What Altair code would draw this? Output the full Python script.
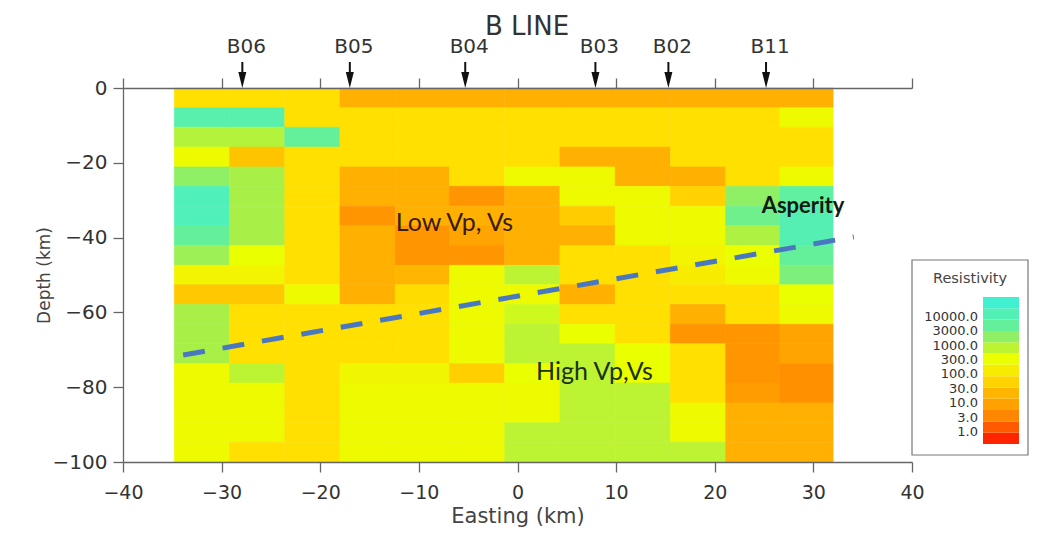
import altair as alt
import pandas as pd

# ---------------- data ----------------
easting_edges = [-34.8, -29.2, -23.6, -18.0, -12.4, -6.9, -1.3, 4.3, 9.9, 15.5, 21.1, 26.6, 32.0]
depth_edges = [0, -5.3, -10.5, -15.8, -21.1, -26.3, -31.6, -36.8, -42.1, -47.4,
               -52.6, -57.9, -63.2, -68.4, -73.7, -78.9, -84.2, -89.5, -94.7, -100]

# resistivity (ohm-m), rows from the surface down, columns west -> east
resistivity = [
    [100, 100, 100, 30, 30, 30, 30, 30, 30, 30, 30, 30],
    [4500, 4500, 100, 100, 100, 100, 100, 100, 100, 100, 100, 250],
    [800, 800, 3000, 100, 100, 100, 100, 100, 100, 100, 100, 100],
    [250, 50, 100, 100, 100, 100, 100, 30, 30, 100, 100, 100],
    [1500, 1000, 100, 30, 30, 100, 250, 250, 30, 30, 100, 250],
    [6000, 1000, 100, 30, 30, 12, 30, 250, 250, 70, 1500, 3500],
    [6000, 1000, 100, 12, 30, 30, 30, 60, 250, 250, 2500, 5000],
    [3000, 1000, 100, 30, 12, 20, 30, 30, 250, 250, 900, 5000],
    [1200, 300, 100, 30, 12, 12, 30, 100, 100, 200, 300, 3000],
    [200, 200, 100, 30, 35, 250, 700, 100, 100, 150, 250, 2000],
    [55, 55, 250, 30, 90, 250, 250, 30, 100, 100, 100, 300],
    [1000, 100, 100, 100, 100, 250, 500, 100, 100, 30, 100, 250],
    [1000, 100, 100, 100, 100, 250, 700, 300, 100, 12, 12, 20],
    [1000, 100, 100, 100, 100, 250, 700, 700, 300, 100, 12, 20],
    [250, 700, 100, 220, 220, 65, 300, 700, 300, 100, 12, 10],
    [250, 250, 100, 250, 250, 250, 250, 700, 700, 100, 15, 10],
    [250, 250, 100, 250, 250, 250, 250, 700, 700, 250, 30, 30],
    [250, 250, 100, 250, 250, 250, 700, 700, 700, 250, 30, 30],
    [250, 100, 100, 250, 250, 250, 700, 700, 700, 700, 30, 30],
]

stations = ["B06", "B05", "B04", "B03", "B02", "B11"]
station_easting = [-27.9, -17.0, -5.3, 7.9, 15.3, 25.2]

slab_easting = [-33.9, 34.1]
slab_depth = [-71.4, -39.8]

notes = ["Low Vp, Vs", "Asperity", "High Vp,Vs"]
note_easting = [-6.4, 28.95, 7.8]
note_depth = [-38.2, -33.3, -78.1]
note_colors = ["#3b1a06", "#0f1c0f", "#1a3210"]
note_weights = ["normal", "bold", "normal"]
note_sizes = [25, 22, 25]

legend_values = [1, 3, 8, 18, 35, 70, 150, 300, 700, 1500, 3000, 5500, 10000]
legend_labels = ["10000.0", "3000.0", "1000.0", "300.0", "100.0", "30.0", "10.0", "3.0", "1.0"]
legend_label_pos = [11.23, 9.96, 8.69, 7.42, 6.15, 4.88, 3.61, 2.34, 1.06]

x_ticks = [-40, -30, -20, -10, 0, 10, 20, 30, 40]
y_ticks = [0, -20, -40, -60, -80, -100]

color_domain = [1, 3, 10, 30, 100, 300, 1000, 3000, 10000]
color_range = ["#ff2400", "#ff5a00", "#ff9000", "#ffb000", "#ffe000",
               "#eaff00", "#a8f048", "#64f09a", "#40f0d0"]

# ---------------- tables ----------------
cells = []
for r, row in enumerate(resistivity):
    for c, v in enumerate(row):
        cells.append({"x0": easting_edges[c], "x1": easting_edges[c + 1],
                      "y0": depth_edges[r], "y1": depth_edges[r + 1], "res": v})
cells_df = pd.DataFrame(cells)
st_df = pd.DataFrame({"e": station_easting, "name": stations})
slab_df = pd.DataFrame({"e": slab_easting, "d": slab_depth})
band_df = pd.DataFrame({"b0": list(range(len(legend_values))),
                        "b1": [i + 1 for i in range(len(legend_values))],
                        "res": legend_values})
lab_df = pd.DataFrame({"pos": legend_label_pos, "lab": legend_labels})


def xs():
    return alt.Scale(domain=[-40, 40], nice=False, zero=False)


def ys():
    return alt.Scale(domain=[-100, 0], nice=False, zero=False)


def cs():
    return alt.Scale(type="log", domain=color_domain, range=color_range,
                     interpolate="rgb", clamp=True)


def ls():
    return alt.Scale(domain=[0, 13], range=[356, 209], nice=False, zero=False)


heat = alt.Chart(cells_df).mark_rect(strokeWidth=0.6).encode(
    x=alt.X("x0:Q", scale=xs(), axis=alt.Axis(orient="bottom", values=x_ticks, title="Easting (km)",
                                               titleY=43, titleFontSize=21, labelPadding=11,
                                               labelFontSize=19, labelFlush=False, zindex=1)),
    x2="x1:Q",
    y=alt.Y("y0:Q", scale=ys(), axis=alt.Axis(orient="left", values=y_ticks, title="Depth (km)",
                                               titleX=-70, titleBaseline="bottom", titleFontSize=17,
                                               labelPadding=6, labelFlush=False, zindex=1)),
    y2="y1:Q",
    color=alt.Color("res:Q", scale=cs(), legend=None),
    stroke=alt.Stroke("res:Q", scale=cs(), legend=None),
)

slab = alt.Chart(slab_df).mark_line(color="#4a78c0", strokeWidth=5, strokeDash=[22, 18]).encode(
    x=alt.X("e:Q", scale=xs(), axis=None),
    y=alt.Y("d:Q", scale=ys(), axis=None),
)

note_layers = []
for i in range(len(notes)):
    ndf = pd.DataFrame({"e": [note_easting[i]], "d": [note_depth[i]], "t": [notes[i]]})
    note_layers.append(
        alt.Chart(ndf).mark_text(font="Lato", fontSize=note_sizes[i], fontWeight=note_weights[i],
                                 color=note_colors[i], baseline="alphabetic", align="center").encode(
            x=alt.X("e:Q", scale=xs(), axis=None),
            y=alt.Y("d:Q", scale=ys(), axis=None),
            text="t:N",
        )
    )

shafts = alt.Chart(st_df).mark_rule(strokeWidth=2, color="#111").encode(
    x=alt.X("e:Q", scale=xs(), axis=alt.Axis(orient="top", values=x_ticks, labels=False, title="",
                                              zindex=1)),
    y=alt.value(-26), y2=alt.value(-14),
)
heads = alt.Chart(st_df).mark_point(shape="M-0.5,-1L0.5,-1L0,1Z", size=256, filled=True,
                                     color="#111", opacity=1, strokeWidth=0).encode(
    x=alt.X("e:Q", scale=xs(), axis=None), y=alt.value(-8),
)
st_labels = alt.Chart(st_df).mark_text(font="DejaVu Sans", fontSize=20, color="#333",
                                        baseline="alphabetic", align="center", dx=4).encode(
    x=alt.X("e:Q", scale=xs(), axis=None), y=alt.value(-35), text="name:N",
)
title_txt = alt.Chart(pd.DataFrame({"t": ["B LINE"]})).mark_text(
    font="DejaVu Sans", fontSize=26, color="#333", baseline="alphabetic", align="center").encode(
    x=alt.value(404), y=alt.value(-53), text="t:N",
)

box = alt.Chart(pd.DataFrame({"a": [0]})).mark_rect(fill="white", stroke="#777", strokeWidth=1.2).encode(
    x=alt.value(789), x2=alt.value(905), y=alt.value(172), y2=alt.value(367),
)
bands = alt.Chart(band_df).mark_rect().encode(
    x=alt.value(860), x2=alt.value(896),
    y=alt.Y("b0:Q", scale=ls(), axis=None), y2="b1:Q",
    color=alt.Color("res:Q", scale=cs(), legend=None),
)
blabels = alt.Chart(lab_df).mark_text(font="DejaVu Sans", fontSize=13, color="#333",
                                      align="right", baseline="middle").encode(
    x=alt.value(855), y=alt.Y("pos:Q", scale=ls(), axis=None), text="lab:N",
)
ltitle = alt.Chart(pd.DataFrame({"t": ["Resistivity"]})).mark_text(
    font="DejaVu Sans", fontSize=14.5, color="#444", baseline="alphabetic", align="center").encode(
    x=alt.value(847), y=alt.value(195), text="t:N",
)

chart = alt.layer(
    heat, slab, *note_layers, shafts, heads, st_labels, title_txt, box, bands, blabels, ltitle
).resolve_scale(y="independent").resolve_axis(x="independent", y="independent").properties(
    width=789, height=374,
    autosize=alt.AutoSizeParams(type="none"),
    padding={"left": 123, "top": 88, "right": 146, "bottom": 75},
).configure_axis(
    domainColor="#666", domainWidth=1.3, tickColor="#666", tickWidth=1.3, tickSize=10,
    labelColor="#333", labelFont="DejaVu Sans", labelFontSize=20,
    titleFont="DejaVu Sans", titleColor="#444", titleFontWeight="normal", grid=False,
).configure_view(stroke="transparent")

chart.save("out.html", embed_options={"renderer": "svg", "actions": False})
